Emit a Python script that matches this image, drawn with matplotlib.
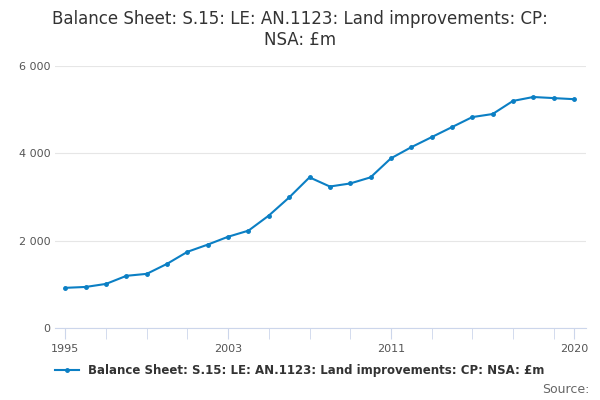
import matplotlib.pyplot as plt

years = list(range(1995, 2021))
values = [920, 940, 1010, 1195, 1240, 1470, 1745, 1910, 2090, 2230, 2575, 2990, 3450,
          3240, 3310, 3450, 3885, 4140, 4370, 4600, 4830, 4900, 5200, 5290, 5265, 5240]
label = "Balance Sheet: S.15: LE: AN.1123: Land improvements: CP: NSA: £m"

fig = plt.figure(figsize=(6, 4), dpi=100)
ax = fig.add_axes([0.092, 0.18, 0.885, 0.655])
line_color = '#0b7fc4'
ax.plot(years, values, color=line_color, lw=1.5, marker='o', ms=2.5, label=label)

ax.set_ylim(0, 6000)
ax.set_xlim(1994.5, 2020.6)
ax.set_yticks([0, 2000, 4000, 6000])
ax.set_yticklabels(['0', '2 000', '4 000', '6 000'])
ax.set_xticks([1995, 2003, 2011, 2020])
ax.set_xticks(list(range(1995, 2021, 2)), minor=True)
ax.grid(axis='y', color='#e6e6e6', lw=0.8)
ax.set_axisbelow(True)
for s in ['top', 'right', 'left']:
    ax.spines[s].set_visible(False)
ax.spines['bottom'].set_color('#ccd6eb')
ax.tick_params(axis='y', length=0, labelsize=8, colors='#555555')
ax.tick_params(axis='x', which='both', length=8, color='#ccd6eb', labelsize=8, labelcolor='#555555')

fig.suptitle("Balance Sheet: S.15: LE: AN.1123: Land improvements: CP:\nNSA: £m",
             fontsize=12, color='#333333', y=0.975)
fig.legend(loc='lower center', bbox_to_anchor=(0.5, 0.03), frameon=False,
           prop={'size': 8.5, 'weight': 'bold'}, labelcolor='#333333', handlelength=2)
fig.text(0.982, 0.01, 'Source:', ha='right', va='bottom', fontsize=9, color='#666666')

fig.savefig('out.png')
